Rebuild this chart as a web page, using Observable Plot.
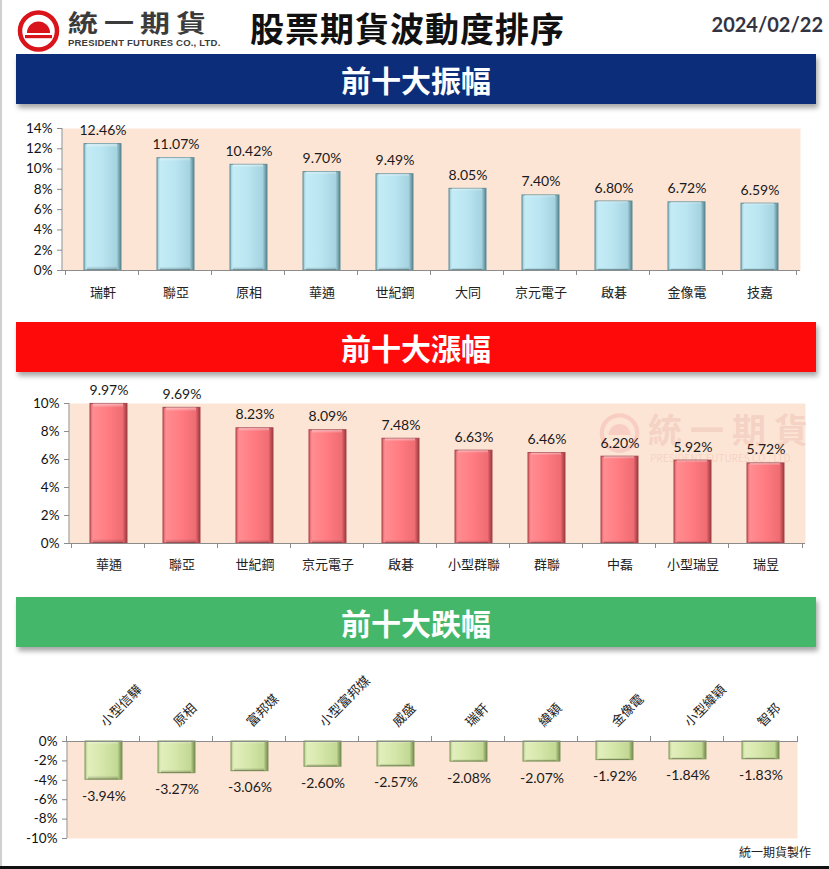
<!DOCTYPE html>
<html><head><meta charset="utf-8">
<script src="https://cdn.jsdelivr.net/npm/d3@7"></script>
<script src="https://cdn.jsdelivr.net/npm/@observablehq/plot@0.6"></script>
<style>
body{margin:0;background:#fff;}
#page{position:relative;width:829px;height:869px;overflow:hidden;background:#fff;font-family:"Noto Sans CJK TC",sans-serif;}
.abs{position:absolute;}
.banner{position:absolute;left:16px;width:800px;height:50px;color:#fff;font-weight:700;font-size:30px;line-height:50px;text-align:center;box-shadow:2px 4px 5px rgba(0,0,0,0.35);}
.chart{position:absolute;left:0;}
</style></head>
<body><div id="page">
  <svg class="abs" style="left:16px;top:9px" width="46" height="46" viewBox="0 0 46 46">
    <circle cx="22.5" cy="22" r="18.5" fill="#fff" stroke="#d9141b" stroke-width="4.5"/>
    <path d="M11,24 A11.5,11.5 0 0 1 34,24 Z" fill="#d9141b"/>
    <rect x="9" y="26" width="27" height="3.2" fill="#d9141b"/>
  </svg>
  <div class="abs" style="left:68px;top:10px;font-size:30px;font-weight:700;color:#3b3b3b;line-height:1;letter-spacing:6px;transform:scaleY(0.78);transform-origin:left top;">統一期貨</div>
  <div class="abs" style="left:68px;top:38px;font-size:9.5px;font-weight:700;color:#3b3b3b;font-family:'Liberation Sans Narrow','Liberation Sans',sans-serif;line-height:1;letter-spacing:0.2px;">PRESIDENT FUTURES CO., LTD.</div>
  <div class="abs" style="left:250px;top:9px;font-size:34px;font-weight:700;color:#111;line-height:1.1;letter-spacing:1px;">股票期貨波動度排序</div>
  <div class="abs" style="right:6px;top:13px;font-size:20px;font-weight:700;color:#333342;font-family:Lato,sans-serif;line-height:1.1;">2024/02/22</div>

  <div class="banner" style="top:54px;background:#0b2d7a;">前十大振幅</div>
  <div class="banner" style="top:322px;background:#ff0a0a;">前十大漲幅</div>
  <div class="banner" style="top:597px;background:#45b76a;">前十大跌幅</div>

  <div id="c1" class="chart" style="top:110px"></div>
  <div id="c2" class="chart" style="top:375px"></div>
  <div id="c3" class="chart" style="top:650px"></div>

  <div class="abs" style="left:598px;top:412px;opacity:0.10;pointer-events:none;">
    <svg width="44" height="44" viewBox="0 0 46 46" style="position:absolute;left:0;top:0">
      <circle cx="22.5" cy="22" r="18.5" fill="none" stroke="#d9141b" stroke-width="4.5"/>
      <path d="M11,24 A11.5,11.5 0 0 1 34,24 Z" fill="#d9141b"/>
    </svg>
    <div style="position:absolute;left:50px;top:0;font-size:34px;font-weight:700;color:#a33;letter-spacing:8px;line-height:1;white-space:nowrap;">統一期貨</div>
    <div style="position:absolute;left:52px;top:38px;font-size:10px;color:#a33;white-space:nowrap;">PRESIDENT FUTURES CO., LTD.</div>
  </div>

  <div class="abs" style="right:18px;top:843px;font-size:12px;color:#222;">統一期貨製作</div>
  <div class="abs" style="left:0;top:0;width:2px;height:869px;background:#d0d0d0;"></div>
  <div class="abs" style="left:0;top:866px;width:829px;height:3px;background:#111;"></div>
</div>
<script>
// ---- data ----
const ampNames = ["瑞軒","聯亞","原相","華通","世紀鋼","大同","京元電子","啟碁","金像電","技嘉"];
const ampValues = [12.46,11.07,10.42,9.70,9.49,8.05,7.40,6.80,6.72,6.59];
const ampTicks = [0,2,4,6,8,10,12,14];

const upNames = ["華通","聯亞","世紀鋼","京元電子","啟碁","小型群聯","群聯","中磊","小型瑞昱","瑞昱"];
const upValues = [9.97,9.69,8.23,8.09,7.48,6.63,6.46,6.20,5.92,5.72];
const upTicks = [0,2,4,6,8,10];

const downNames = ["小型信驊","原相","富邦媒","小型富邦媒","威盛","瑞軒","緯穎","金像電","小型緯穎","智邦"];
const downValues = [-3.94,-3.27,-3.06,-2.60,-2.57,-2.08,-2.07,-1.92,-1.84,-1.83];
const downTicks = [0,-2,-4,-6,-8,-10];

const FONT = "Lato, 'Noto Sans CJK TC', sans-serif";
const pct = v => v.toFixed(2) + "%";

function chart(o) {
  const data = o.names.map((n, i) => ({name: n, value: o.values[i]}));
  const deco = (index, scales, values, dims) => {
    const g = d3.create("svg:g");
    const defs = g.append("defs");
    const lg = defs.append("linearGradient").attr("id", o.gid)
      .attr("x1", "0").attr("x2", "1").attr("y1", "0").attr("y2", "0");
    for (const [off, c] of o.stops) lg.append("stop").attr("offset", off).attr("stop-color", c);
    const lg2 = defs.append("linearGradient").attr("id", o.gid + "v")
      .attr("x1", "0").attr("x2", "0").attr("y1", "0").attr("y2", "1");
    for (const [off, c] of o.vstops) lg2.append("stop").attr("offset", off).attr("stop-color", c);
    const x = scales.x, y = scales.y;
    const left = dims.marginLeft;
    const bw = x.bandwidth();
    const y0 = y(0);
    g.append("line").attr("x1", left).attr("x2", left)
      .attr("y1", dims.marginTop).attr("y2", dims.height - dims.marginBottom)
      .attr("stroke", "#8c8c8c");
    const bounds = o.names.map(n => x(n) - bw / 2).concat([x(o.names[o.names.length - 1]) + bw * 1.5]);
    for (const b of bounds) {
      g.append("line").attr("x1", b).attr("x2", b)
        .attr("y1", o.top ? y0 - 5 : y0).attr("y2", o.top ? y0 + 1 : y0 + 5)
        .attr("stroke", "#8c8c8c");
    }
    return g.node();
  };
  const marks = [
    Plot.frame({fill: "#fde5d6", stroke: "none"}),
    deco,
    Plot.barY(data, {x: "name", y: "value", fill: `url(#${o.gid})`, stroke: o.edge, strokeWidth: 1}),
    Plot.barY(data, {x: "name", y: "value", fill: `url(#${o.gid}v)`, insetLeft: 3, insetRight: 4}),
    Plot.ruleY([0], {stroke: "#8c8c8c"}),
    Plot.axisY({ticks: o.ticks, tickFormat: d => d + "%", tickSize: 5, tickPadding: 5, fontSize: 13.5, stroke: "#8c8c8c", fill: "#111"}),
    o.top
      ? Plot.text(data, {x: "name", y: d => 0, text: "name", rotate: -45, textAnchor: "start", dy: -17, dx: -1, fontSize: 13, fill: "#222"})
      : Plot.axisX({tickSize: 0, tickPadding: o.pad, fontSize: 13, fill: "#222"}),
    Plot.text(data, {x: "name", y: "value", text: d => pct(d.value),
      lineAnchor: o.top ? "top" : "bottom", dy: o.top ? 11 : -9, fontSize: 14, fill: "#1a1a1a"})
  ];
  return Plot.plot({
    width: 829, height: o.height,
    marginTop: o.mt, marginBottom: o.mb, marginLeft: o.ml, marginRight: o.mr,
    x: {domain: o.names, paddingInner: 0.5, paddingOuter: 0.25, label: null, axis: o.top ? null : undefined},
    y: {domain: o.domain, label: null},
    style: {fontFamily: FONT, background: "transparent", color: "#111"},
    marks
  });
}

document.getElementById("c1").append(chart({
  names: ampNames, values: ampValues, ticks: ampTicks, domain: [0, 14],
  gid: "gBlue", edge: "#5f8c96",
  stops: [[0, "#8fbfcb"], [0.08, "#c4ecf6"], [0.5, "#b9e5f1"], [0.88, "#a5d3df"], [1, "#55838d"]],
  vstops: [[0, "rgba(255,255,255,0.55)"], [0.03, "rgba(255,255,255,0)"], [0.97, "rgba(0,0,0,0)"], [1, "rgba(0,0,0,0.25)"]],
  height: 200, mt: 18, mb: 40, ml: 62, mr: 29, pad: 17, top: false
}));
document.getElementById("c2").append(chart({
  names: upNames, values: upValues, ticks: upTicks, domain: [0, 10],
  gid: "gRed", edge: "#a5454a",
  stops: [[0, "#d85f64"], [0.08, "#ff8d91"], [0.5, "#ff7b81"], [0.88, "#ee6c72"], [1, "#99383d"]],
  vstops: [[0, "rgba(255,255,255,0.5)"], [0.03, "rgba(255,255,255,0)"], [0.97, "rgba(0,0,0,0)"], [1, "rgba(0,0,0,0.25)"]],
  height: 200, mt: 28, mb: 32, ml: 69, mr: 24, pad: 16, top: false
}));
document.getElementById("c3").append(chart({
  names: downNames, values: downValues, ticks: downTicks, domain: [-10, 0],
  gid: "gGreen", edge: "#7f9858",
  stops: [[0, "#b2c98a"], [0.08, "#e2efbd"], [0.5, "#d4e6a8"], [0.88, "#c2d894"], [1, "#71884c"]],
  vstops: [[0, "rgba(255,255,255,0.45)"], [0.1, "rgba(255,255,255,0)"], [0.9, "rgba(0,0,0,0)"], [1, "rgba(0,0,0,0.25)"]],
  height: 200, mt: 91, mb: 12, ml: 67, mr: 32, top: true
}));
</script>
</body></html>
